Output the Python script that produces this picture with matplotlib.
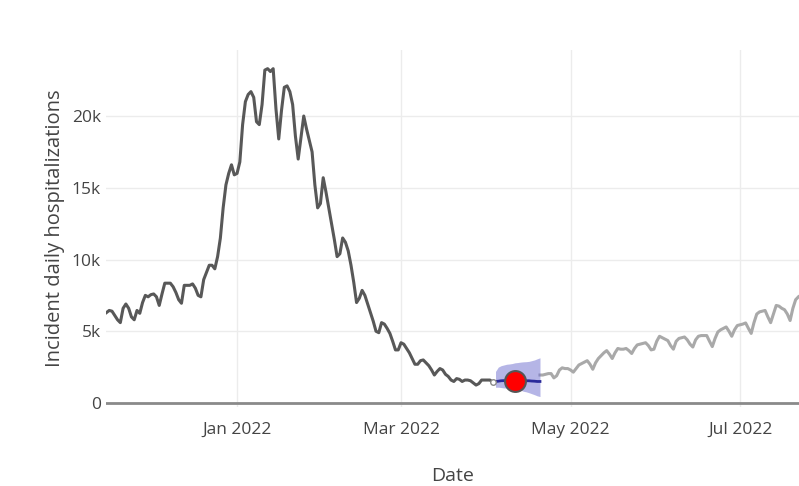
import matplotlib.pyplot as plt
import numpy as np
import pandas as pd

plt.rcParams['font.family'] = ['Open Sans', 'DejaVu Sans']

# observed daily admissions (thousands), starting 2021-11-15
observed = [
    6.3, 6.45, 6.4, 6.1, 5.8, 5.6, 6.6, 6.9, 6.6, 6.0,
    5.8, 6.45, 6.25, 7.0, 7.5, 7.4, 7.55, 7.6, 7.4, 6.8,
    7.6, 8.35, 8.35, 8.35, 8.1, 7.7, 7.2, 6.95, 8.2, 8.2,
    8.2, 8.3, 8.0, 7.5, 7.4, 8.6, 9.1, 9.6, 9.6, 9.35,
    10.2, 11.5, 13.6, 15.2, 16.0, 16.6, 15.9, 16.0, 16.8, 19.4,
    21.0, 21.5, 21.7, 21.3, 19.6, 19.4, 20.8, 23.2, 23.3, 23.1,
    23.3, 20.5, 18.4, 20.4, 22.0, 22.1, 21.7, 20.8, 18.6, 17.0,
    18.5, 20.0, 19.1, 18.3, 17.5, 15.2, 13.6, 13.9, 15.7, 14.7,
    13.6, 12.5, 11.4, 10.2, 10.4, 11.5, 11.2, 10.6, 9.6, 8.4,
    7.0, 7.3, 7.85, 7.5, 6.9, 6.3, 5.7, 5.0, 4.9, 5.6,
    5.5, 5.2, 4.85, 4.3, 3.7, 3.7, 4.2, 4.1, 3.8, 3.5,
    3.1, 2.7, 2.7, 2.95, 3.0, 2.8, 2.6, 2.3, 1.95, 2.2,
    2.4, 2.3, 2.0, 1.85, 1.6, 1.5, 1.7, 1.65, 1.5, 1.6,
    1.6, 1.55, 1.4, 1.25, 1.35, 1.6, 1.6, 1.6, 1.6, 1.45,
]
obs_start = '2021-11-15'

# forecast median and interval, starting 2022-04-04
fc_median = [1.5, 1.52, 1.55, 1.56, 1.55, 1.54, 1.55, 1.56, 1.55, 1.55,
             1.54, 1.55, 1.55, 1.53, 1.52, 1.5, 1.5]
fc_lower = [1.1, 1.1, 1.08, 1.05, 1.05, 1.02, 1.0, 0.98, 0.95, 0.9,
            0.82, 0.78, 0.72, 0.65, 0.58, 0.5, 0.45]
fc_upper = [2.2, 2.5, 2.6, 2.65, 2.7, 2.72, 2.75, 2.8, 2.82, 2.85,
            2.87, 2.88, 2.9, 2.95, 3.0, 3.08, 3.15]
fc_start = '2022-04-04'
target_date = '2022-04-11'
target_value = 1.53

# later observations, starting 2022-04-20
later = [
    1.95, 1.95, 2.0, 2.05, 2.05, 1.75, 1.9, 2.3, 2.45, 2.4,
    2.4, 2.3, 2.15, 2.4, 2.65, 2.75, 2.85, 2.95, 2.7, 2.35,
    2.8, 3.1, 3.3, 3.5, 3.65, 3.4, 3.1, 3.5, 3.8, 3.75,
    3.75, 3.8, 3.65, 3.45, 3.8, 4.05, 4.1, 4.15, 4.2, 4.0,
    3.7, 3.75, 4.3, 4.65, 4.55, 4.45, 4.35, 4.0, 3.75, 4.3,
    4.5, 4.55, 4.6, 4.4, 4.1, 3.9, 4.4, 4.65, 4.7, 4.7,
    4.7, 4.3, 3.93, 4.5, 4.95, 5.1, 5.2, 5.3, 5.0, 4.65,
    5.1, 5.4, 5.45, 5.5, 5.58, 5.2, 4.85, 5.6, 6.2, 6.35,
    6.4, 6.45, 6.0, 5.6, 6.2, 6.8, 6.75, 6.6, 6.5, 6.2,
    5.75, 6.6, 7.2, 7.4,
]
later_start = '2022-04-20'

yticks = [0, 5000, 10000, 15000, 20000]
ytick_labels = ['0', '5k', '10k', '15k', '20k']
xticks = ['2022-01-01', '2022-03-01', '2022-05-01', '2022-07-01']
xtick_labels = ['Jan 2022', 'Mar 2022', 'May 2022', 'Jul 2022']

obs_dates = pd.date_range(obs_start, periods=len(observed))
fc_dates = pd.date_range(fc_start, periods=len(fc_median))
later_dates = pd.date_range(later_start, periods=len(later))

fig = plt.figure(figsize=(7.99, 4.86), dpi=100)
ax = fig.add_axes([0.1332, 0.1634, 0.8668, 0.7337])

ax.grid(True, color='#ececec', linewidth=1)
ax.set_axisbelow(True)
ax.axhline(0, color='#8a8a8a', linewidth=2, zorder=2)

ax.plot(later_dates, np.array(later) * 1000, color='#a9a9a9', linewidth=2.2,
        zorder=3)
ax.plot(obs_dates, np.array(observed) * 1000, color='#585858', linewidth=2.2,
        zorder=3)
ax.fill_between(fc_dates, np.array(fc_lower) * 1000, np.array(fc_upper) * 1000,
                color='#6d6dcf', alpha=0.5, linewidth=0, zorder=4)
ax.plot(fc_dates, np.array(fc_median) * 1000, color='#2a2a9a', linewidth=2,
        zorder=5)
ax.plot(obs_dates[-1:], np.array(observed[-1:]) * 1000, 'o', ms=4,
        mfc='white', mec='#888888', mew=1, zorder=5)
ax.plot(pd.to_datetime([target_date]), [target_value * 1000], 'o', ms=15,
        mfc='#ff0000', mec='#555555', mew=1.5, zorder=6)

ax.set_xlim(pd.Timestamp(obs_start), pd.Timestamp(obs_start) + pd.Timedelta(days=249.2))
ax.set_ylim(-250, 24600)

ax.set_yticks(yticks)
ax.set_yticklabels(ytick_labels)
ax.set_xticks(pd.to_datetime(xticks))
ax.set_xticklabels(xtick_labels)
ax.tick_params(axis='both', length=0, labelsize=12.5, colors='#444444')
ax.tick_params(axis='x', pad=11)
ax.tick_params(axis='y', pad=4)

for s in ax.spines.values():
    s.set_visible(False)

ax.set_xlabel('Date', fontsize=14, color='#444444', labelpad=21)
ax.set_ylabel('Incident daily hospitalizations', fontsize=14.5, color='#444444',
              labelpad=5)

fig.savefig('out.png', dpi=100)
